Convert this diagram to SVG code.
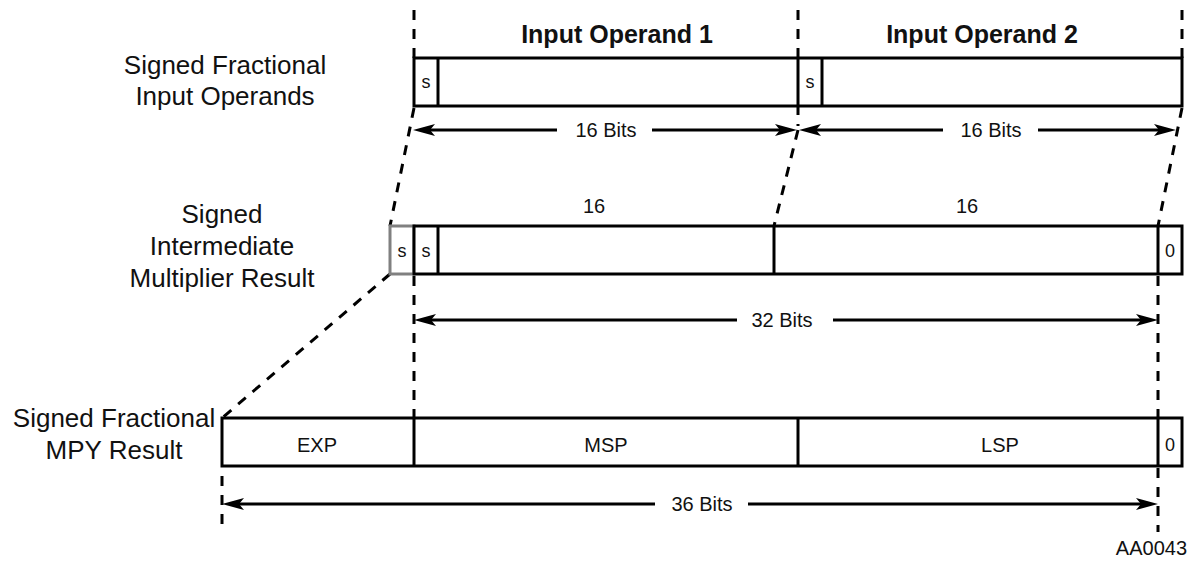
<svg xmlns="http://www.w3.org/2000/svg" width="1193" height="561" viewBox="0 0 1193 561">
<style>
text{font-family:"Liberation Sans",Arial,sans-serif;fill:#111}
.title{font-size:25px;font-weight:bold;text-anchor:middle}
.lbl{font-size:26px;text-anchor:middle}
.mid{font-size:20px;text-anchor:middle}
.s{font-size:18px;text-anchor:middle}
.box{fill:#fff;stroke:#000;stroke-width:3}
.gray{fill:#fff;stroke:#808080;stroke-width:3}
.div{stroke:#000;stroke-width:3}
.dash{stroke:#000;stroke-width:3;stroke-dasharray:10 9;fill:none}
.arr{stroke:#000;stroke-width:3;fill:none}
</style>
<defs>
<marker id="ah" markerUnits="userSpaceOnUse" markerWidth="24" markerHeight="14" refX="12" refY="6" orient="auto-start-reverse" overflow="visible">
<path d="M0,0 L22,6 L0,12 L5,6 Z" fill="#000"/>
</marker>
</defs>

<g id="labels">
<text class="lbl" x="225" y="74">Signed Fractional</text>
<text class="lbl" x="225" y="105">Input Operands</text>
<text class="lbl" x="222" y="223">Signed</text>
<text class="lbl" x="222" y="255">Intermediate</text>
<text class="lbl" x="222" y="287">Multiplier Result</text>
<text class="lbl" x="114" y="427">Signed Fractional</text>
<text class="lbl" x="114" y="459">MPY Result</text>
<text class="title" x="617" y="43">Input Operand 1</text>
<text class="title" x="982" y="43">Input Operand 2</text>
<text class="mid" x="1187" y="555" style="text-anchor:end">AA0043</text>
</g>

<g id="connectors">
<!-- vertical dashed guides -->
<line class="dash" x1="414" y1="10" x2="414" y2="58"/>
<line class="dash" x1="798" y1="10" x2="798" y2="126"/>
<line class="dash" x1="1182" y1="10" x2="1182" y2="58"/>
<line class="dash" x1="414" y1="276" x2="414" y2="418"/>
<line class="dash" x1="1158" y1="276" x2="1158" y2="418"/>
<line class="dash" x1="1158" y1="468" x2="1158" y2="532"/>
<line class="dash" x1="222" y1="476" x2="222" y2="532"/>
<!-- slanted dashed guides -->
<line class="dash" x1="414" y1="108" x2="390" y2="226"/>
<line class="dash" x1="798" y1="130" x2="774" y2="226"/>
<line class="dash" x1="1182" y1="108" x2="1158" y2="226"/>
<line class="dash" x1="390" y1="274" x2="222" y2="418"/>
<!-- dimension arrows -->
<line class="arr" x1="423" y1="130" x2="557" y2="130" marker-start="url(#ah)"/>
<line class="arr" x1="652" y1="130" x2="787" y2="130" marker-end="url(#ah)"/>
<line class="arr" x1="809" y1="130" x2="943" y2="130" marker-start="url(#ah)"/>
<line class="arr" x1="1038" y1="130" x2="1166" y2="130" marker-end="url(#ah)"/>
<line class="arr" x1="424" y1="320" x2="737" y2="320" marker-start="url(#ah)"/>
<line class="arr" x1="833" y1="320" x2="1148" y2="320" marker-end="url(#ah)"/>
<line class="arr" x1="232" y1="504" x2="655" y2="504" marker-start="url(#ah)"/>
<line class="arr" x1="748" y1="504" x2="1148" y2="504" marker-end="url(#ah)"/>
<text class="mid" x="606" y="137">16 Bits</text>
<text class="mid" x="991" y="137">16 Bits</text>
<text class="mid" x="782" y="327">32 Bits</text>
<text class="mid" x="702" y="511">36 Bits</text>
</g>

<g id="input-operands">
<rect class="box" x="414" y="58" width="768" height="48"/>
<line class="div" x1="438" y1="58" x2="438" y2="106"/>
<line class="div" x1="798" y1="58" x2="798" y2="106"/>
<line class="div" x1="822" y1="58" x2="822" y2="106"/>
<text class="s" x="426" y="88">s</text>
<text class="s" x="810" y="88">s</text>
</g>

<g id="intermediate-result">
<rect class="gray" x="390" y="226" width="24" height="48"/>
<rect class="box" x="414" y="226" width="768" height="48"/>
<line class="div" x1="438" y1="226" x2="438" y2="274"/>
<line class="div" x1="774" y1="226" x2="774" y2="274"/>
<line class="div" x1="1158" y1="226" x2="1158" y2="274"/>
<text class="s" x="402" y="257">s</text>
<text class="s" x="426" y="257">s</text>
<text class="s" x="1170" y="257">0</text>
<text class="mid" x="594" y="213">16</text>
<text class="mid" x="967" y="213">16</text>
</g>

<g id="mpy-result">
<rect class="box" x="222" y="418" width="960" height="48"/>
<line class="div" x1="414" y1="418" x2="414" y2="466"/>
<line class="div" x1="798" y1="418" x2="798" y2="466"/>
<line class="div" x1="1158" y1="418" x2="1158" y2="466"/>
<text class="mid" x="317" y="452">EXP</text>
<text class="mid" x="606" y="452">MSP</text>
<text class="mid" x="1000" y="452">LSP</text>
<text class="s" x="1170" y="451">0</text>
</g>
</svg>
